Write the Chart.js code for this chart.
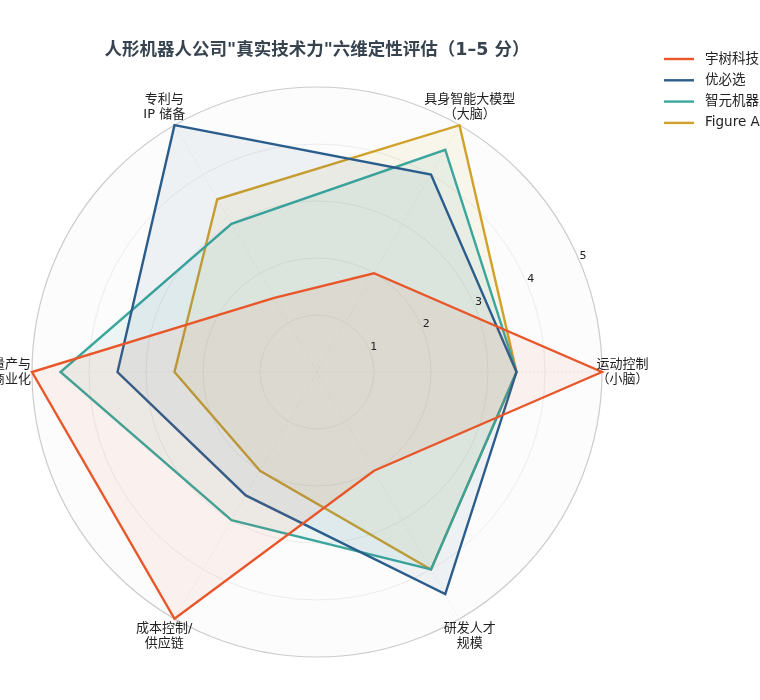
<!DOCTYPE html>
<html>
<head>
<meta charset="utf-8">
<script src="https://cdn.jsdelivr.net/npm/chart.js@4.4.1/dist/chart.umd.min.js"></script>
<style>
  html, body { margin: 0; padding: 0; background: #fff; overflow: hidden; }
  #wrap { width: 760px; height: 700px; }
</style>
</head>
<body>
<div id="wrap"><canvas id="radar" width="760" height="700"></canvas></div>
<script>
// axes, clockwise from the right (matches the reference going around counter-clockwise from 运动控制)
var axisLabels = [
  ["运动控制", "（小脑）"],
  ["研发人才", "规模"],
  ["成本控制/", "供应链"],
  ["量产与", "商业化"],
  ["专利与", "IP 储备"],
  ["具身智能大模型", "（大脑）"]
];
var companies = ["宇树科技", "优必选", "智元机器人", "Figure AI"];
var unitree = [5, 2, 5, 5, 1.5, 2];
var ubtech = [3.5, 4.5, 2.5, 3.5, 5, 4];
var agibot = [3.5, 4, 3, 4.5, 3, 4.5];
var figure = [3.5, 4, 2, 2.5, 3.5, 5];
var tickValues = [1, 2, 3, 4, 5];
var colors = ["#E8572A", "#2B5D8C", "#3BA69C", "#D1A12A"];
var fills = ["rgba(232,87,42,0.07)", "rgba(43,93,140,0.07)", "rgba(59,166,156,0.08)", "rgba(209,161,42,0.08)"];

var seriesData = [unitree, ubtech, agibot, figure];
var datasets = seriesData.map(function (vals, i) {
  return {
    label: companies[i],
    data: vals,
    borderColor: colors[i],
    backgroundColor: fills[i],
    borderWidth: 2.4,
    fill: true,
    pointRadius: 0,
    pointHoverRadius: 0
  };
});

// draws axis labels, tick numbers and legend
var extras = {
  id: "extras",
  beforeDatasetsDraw: function (chart) {
    var ctx = chart.ctx;
    var r = chart.scales.r;
    // very light disc behind the grid
    ctx.save();
    ctx.beginPath();
    ctx.arc(r.xCenter, r.yCenter, r.drawingArea, 0, Math.PI * 2);
    ctx.fillStyle = "#fcfcfc";
    ctx.globalCompositeOperation = "destination-over";
    ctx.fill();
    ctx.restore();
  },
  afterDraw: function (chart) {
    var ctx = chart.ctx;
    var r = chart.scales.r;
    ctx.save();
    // axis labels
    ctx.font = "13px 'DejaVu Sans', 'Noto Sans CJK SC', sans-serif";
    ctx.fillStyle = "#222";
    ctx.textAlign = "center";
    ctx.textBaseline = "middle";
    axisLabels.forEach(function (lines, i) {
      var p = r.getPointPositionForValue(i, 5.36);
      ctx.fillText(lines[0], p.x, p.y - 7.5);
      ctx.fillText(lines[1], p.x, p.y + 7.5);
    });
    // tick numbers at 22.5 degrees
    ctx.font = "11px 'DejaVu Sans', sans-serif";
    var ang = -23.5 * Math.PI / 180;
    tickValues.forEach(function (v) {
      var d = r.getDistanceFromCenterForValue(v) + 5;
      ctx.fillText(String(v), r.xCenter + d * Math.cos(ang), r.yCenter + d * Math.sin(ang));
    });
    // legend
    ctx.font = "13.5px 'DejaVu Sans', 'Noto Sans CJK SC', sans-serif";
    ctx.textAlign = "left";
    companies.forEach(function (name, i) {
      var y = 59 + i * 21.3;
      ctx.strokeStyle = colors[i];
      ctx.lineWidth = 2.4;
      ctx.beginPath();
      ctx.moveTo(664, y);
      ctx.lineTo(694, y);
      ctx.stroke();
      ctx.fillStyle = "#222";
      ctx.fillText(name, 705, y);
    });
    ctx.restore();
  }
};

var ctx = document.getElementById("radar").getContext("2d");
var chart = new Chart(ctx, {
  type: "radar",
  data: {
    labels: axisLabels,
    datasets: datasets
  },
  options: {
    responsive: false,
    animation: false,
    elements: { line: { tension: 0 } },
    layout: { padding: { left: 32, right: 158, top: 0, bottom: 43 } },
    plugins: {
      legend: { display: false },
      tooltip: { enabled: false },
      title: {
        display: true,
        fullSize: false,
        text: "人形机器人公司\"真实技术力\"六维定性评估（1–5 分）",
        color: "#37434f",
        font: { size: 17.5, weight: "bold", family: "'DejaVu Sans', 'Noto Sans CJK SC', sans-serif" },
        padding: { top: 39.5, bottom: 26.5 }
      }
    },
    scales: {
      r: {
        min: 0,
        max: 5,
        startAngle: 90,
        ticks: { display: false, stepSize: 1 },
        pointLabels: { display: false },
        grid: {
          circular: true,
          color: function (c) { return c.tick && c.tick.value === 5 ? "#cccccc" : "#ebebeb"; },
          lineWidth: function (c) { return c.tick && c.tick.value === 5 ? 1.2 : 1; }
        },
        angleLines: { color: "#efefef", lineWidth: 1, borderDash: [2, 2] }
      }
    }
  },
  plugins: [extras]
});
</script>
</body>
</html>
